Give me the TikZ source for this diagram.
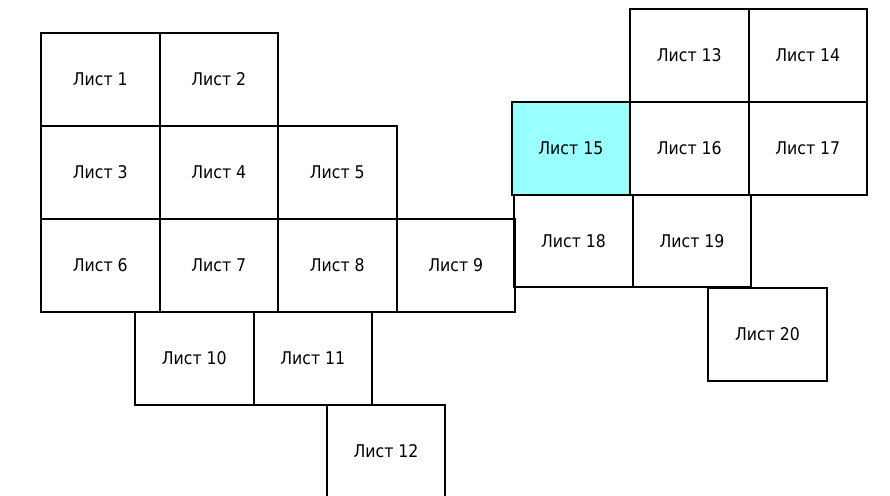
\documentclass[tikz,border=0pt]{standalone}
\usepackage{fontspec}
\setmainfont{DejaVu Sans Condensed}
\usepackage{tikz}
\tikzset{sheet/.style = {draw, line width = 2, minimum width = 118.5, minimum height = 92.8, inner sep = 0, font = \fontsize{17.5}{20}\selectfont}}
\definecolor{mcyan}{rgb}{0.6, 1, 1}

\begin{document}
\begin{tikzpicture}[x=1pt, y=-1pt]
          \clip (0, 0) rectangle (890, 495);

          \node [sheet] (s1) at (100.25, 79.5) {Лист 1};
          \node [sheet] (s2) at (218.75, 79.5) {Лист 2};
          \node [sheet] (s3) at (100.25, 172.5) {Лист 3};
          \node [sheet] (s4) at (218.75, 172.5) {Лист 4};
          \node [sheet] (s5) at (337.25, 172.5) {Лист 5};
          \node [sheet] (s6) at (100.25, 265.5) {Лист 6};
          \node [sheet] (s7) at (218.75, 265.5) {Лист 7};
          \node [sheet] (s8) at (337.25, 265.5) {Лист 8};
          \node [sheet] (s9) at (455.75, 265.5) {Лист 9};
          \node [sheet] (s10) at (194.25, 358.5) {Лист 10};
          \node [sheet] (s11) at (312.75, 358.5) {Лист 11};
          \node [sheet] (s12) at (386, 451) {Лист 12};

          \node [sheet] (s13) at (689.25, 55.6) {Лист 13};
          \node [sheet] (s14) at (807.75, 55.6) {Лист 14};
          \node [sheet, fill = mcyan] (s15) at (570.85, 148.1) {Лист 15};
          \node [sheet] (s16) at (689.25, 148.1) {Лист 16};
          \node [sheet] (s17) at (807.75, 148.1) {Лист 17};
          \node [sheet] (s18) at (573.5, 241) {Лист 18};
          \node [sheet] (s19) at (692, 241) {Лист 19};
          \node [sheet] (s20) at (767.5, 334.2) {Лист 20};
        \end{tikzpicture}
\end{document}
